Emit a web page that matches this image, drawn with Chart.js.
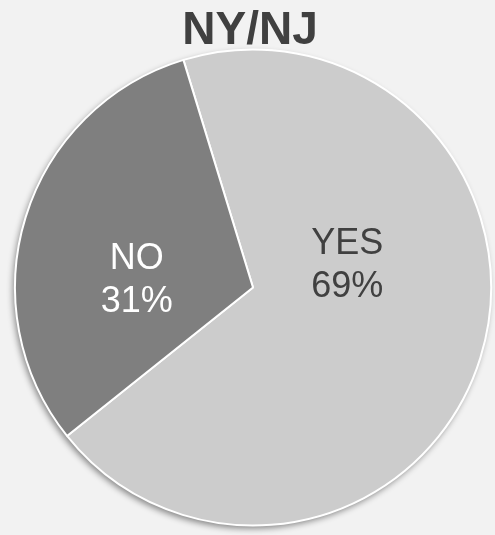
<!DOCTYPE html>
<html>
<head>
<meta charset="utf-8">
<script src="https://cdn.jsdelivr.net/npm/chart.js@4/dist/chart.umd.min.js"></script>
<style>
  html, body { margin: 0; padding: 0; background: #f2f2f2; }
  #wrap { width: 495px; height: 535px; }
</style>
</head>
<body>
<div id="wrap"><canvas id="nyPie" width="495" height="535"></canvas></div>
<script>
    "use strict";

    var chartTitle = "NY/NJ";
    var labels = ["YES", "NO"];
    var values = [69, 31];

    var sliceColors = ["#cccccc", "#7f7f7f"];
    var textColors = ["#404040", "#ffffff"];
    // where PowerPoint put the labels: degrees clockwise from top, fraction of radius
    var labelSpots = [[75, 0.41], [275, 0.49]];

    var shadowPlugin = {
        id: 'pieShadow',
        beforeDatasetsDraw: function (chart) {
            var arc = chart.getDatasetMeta(0).data[0];
            if (!arc) return;
            var ctx = chart.ctx;
            ctx.save();
            ctx.shadowColor = "rgba(0,0,0,0.45)";
            ctx.shadowBlur = 6;
            ctx.shadowOffsetX = -2;
            ctx.shadowOffsetY = 3;
            ctx.fillStyle = "#cccccc";
            ctx.beginPath();
            ctx.arc(arc.x, arc.y, arc.outerRadius, 0, Math.PI * 2);
            ctx.fill();
            ctx.restore();
        }
    };

    var labelPlugin = {
        id: 'sliceLabels',
        afterDatasetsDraw: function (chart) {
            var ctx = chart.ctx;
            var meta = chart.getDatasetMeta(0);
            var total = values.reduce(function (a, b) { return a + b; }, 0);
            ctx.save();
            ctx.font = "36px 'Liberation Sans', Arial, sans-serif";
            ctx.textAlign = "center";
            ctx.textBaseline = "alphabetic";
            meta.data.forEach(function (arc, i) {
                var a = labelSpots[i][0] * Math.PI / 180;
                var r = arc.outerRadius * labelSpots[i][1];
                var cx = arc.x + Math.sin(a) * r;
                var cy = arc.y - Math.cos(a) * r;
                var pct = Math.round(values[i] / total * 100) + "%";
                ctx.fillStyle = textColors[i];
                ctx.fillText(labels[i], cx, cy - 8);
                ctx.fillText(pct, cx, cy + 35);
            });
            ctx.restore();
        }
    };

    var titlePlugin = {
        id: 'topTitle',
        afterDraw: function (chart) {
            var ctx = chart.ctx;
            ctx.save();
            ctx.font = "bold 46px 'Liberation Sans', Arial, sans-serif";
            ctx.fillStyle = "#404040";
            ctx.textAlign = "center";
            ctx.textBaseline = "alphabetic";
            ctx.fillText(chartTitle, 250, 44);
            ctx.restore();
        }
    };

    var ctx = document.getElementById("nyPie");
    var myChart = new Chart(ctx, {
        type: 'pie',
        data: {
            labels: labels,
            datasets: [
                {
                    data: values,
                    backgroundColor: sliceColors,
                    borderColor: "#ffffff",
                    borderWidth: 2,
                    hoverOffset: 0
                }
            ]
        },
        options: {
            responsive: false,
            animation: false,
            rotation: -17,
            layout: {
                padding: { top: 48, bottom: 8, left: 14, right: 3 }
            },
            plugins: {
                legend: { display: false },
                title: { display: false },
                tooltip: { enabled: false }
            }
        },
        plugins: [shadowPlugin, labelPlugin, titlePlugin]
    });
</script>
</body>
</html>
